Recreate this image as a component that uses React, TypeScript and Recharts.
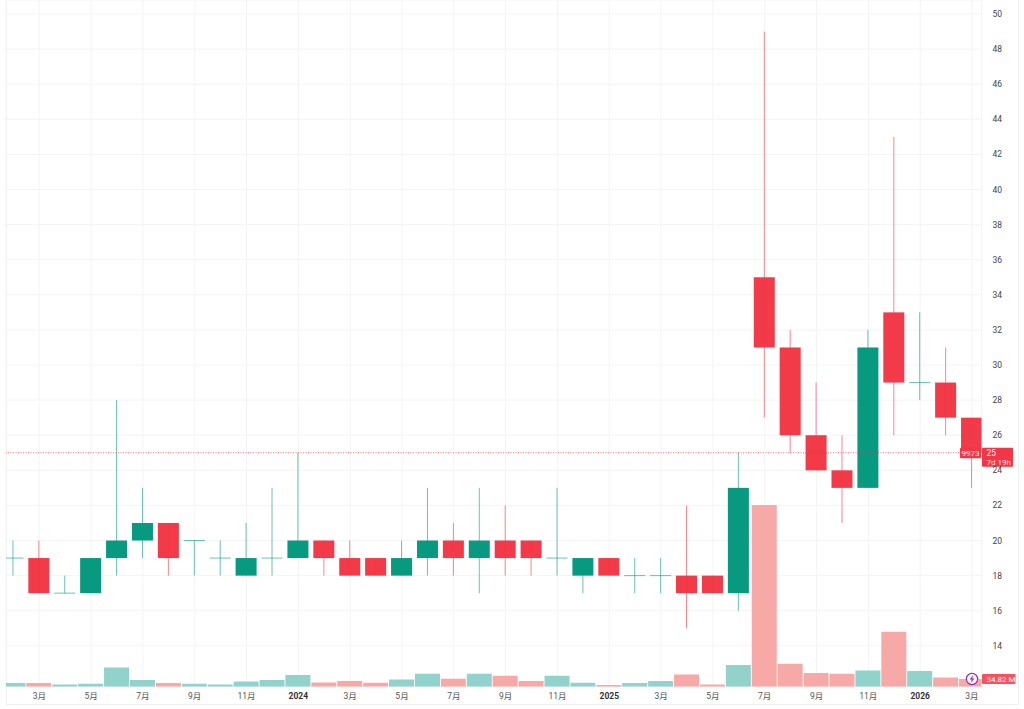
import { Bar, CartesianGrid, Cell, ComposedChart, ReferenceDot, ReferenceLine, XAxis, YAxis } from 'recharts'

const UP = '#089981'
const DOWN = '#f23645'
const UP_VOL = '#92d2cc'
const DOWN_VOL = '#f7a9a7'
const FONT = 'Roboto, "Noto Sans CJK SC", sans-serif'

const opens = [19, 19, 17, 17, 19, 20, 21, 20, 19, 18, 19, 19, 20, 19, 19, 18, 19, 20, 19, 20, 20, 19, 18, 19, 18, 18, 18, 18, 17, 35, 31, 26, 24, 23, 33, 29, 29, 27]
const closes = [19, 17, 17, 19, 20, 21, 19, 20, 19, 19, 19, 20, 19, 18, 18, 19, 20, 19, 20, 19, 19, 19, 19, 18, 18, 18, 17, 17, 23, 31, 26, 24, 23, 31, 29, 29, 27, 25]
const highs = [20, 20, 18, 19, 28, 23, 21, 20, 20, 21, 23, 25, 20, 20, 19, 20, 23, 21, 23, 22, 20, 23, 19, 19, 19, 19, 22, 18, 25, 49, 32, 29, 26, 32, 43, 33, 31, 27]
const lows = [18, 17, 17, 17, 18, 19, 18, 18, 18, 18, 18, 19, 18, 18, 18, 18, 18, 18, 17, 18, 18, 18, 17, 18, 17, 17, 15, 17, 16, 27, 25, 24, 21, 23, 26, 28, 26, 23]
const volumes = [16.7, 16.7, 10.4, 13.6, 87, 30, 16.7, 13.6, 10.4, 24, 30, 53, 19.4, 25.8, 18, 33, 58.8, 36, 58.8, 49.7, 25.8, 49.7, 18, 7.7, 16.7, 25.8, 55.6, 10.4, 98, 821, 104, 62, 58.8, 73.7, 248.6, 71, 42, 34.82]
// doji candles are green on the source chart, so colour is kept as its own list
const upFlags = [1, 0, 1, 1, 1, 1, 0, 1, 1, 1, 1, 1, 0, 0, 0, 1, 1, 0, 1, 0, 0, 1, 1, 0, 1, 1, 0, 0, 1, 0, 0, 0, 0, 1, 0, 1, 0, 0]

const priceTicks = [14, 16, 18, 20, 22, 24, 26, 28, 30, 32, 34, 36, 38, 40, 42, 44, 46, 48, 50]
const timeTicks = [1, 3, 5, 7, 9, 11, 13, 15, 17, 19, 21, 23, 25, 27, 29, 31, 33, 35, 37]
const timeLabels = ['3月', '5月', '7月', '9月', '11月', '2024', '3月', '5月', '7月', '9月', '11月', '2025', '3月', '5月', '7月', '9月', '11月', '2026', '3月']

const rows = opens.map((open, i) => ({
  idx: i,
  open,
  close: closes[i],
  range: [lows[i], highs[i]],
  volume: volumes[i],
  up: upFlags[i] === 1,
}))

const xDomain = [-0.285, 37.367]

function Candle(props: any) {
  const { x, y, width, height, payload } = props
  const top = Math.min(y, y + height)
  const h = Math.abs(height)
  const [low, high] = payload.range
  const perUnit = h / (high - low)
  const color = payload.up ? UP : DOWN
  const bodyTop = top + (high - Math.max(payload.open, payload.close)) * perUnit
  const bodyH = Math.abs(payload.open - payload.close) * perUnit
  const mid = x + width / 2
  return (
    <g>
      <line x1={mid} x2={mid} y1={top} y2={top + h} stroke={color} strokeOpacity={0.6} strokeWidth={1} />
      {bodyH > 0 ? (
        <rect x={x} y={bodyTop} width={width} height={bodyH} fill={color} fillOpacity={color === DOWN ? 0.98 : 1} />
      ) : (
        <line x1={x} x2={x + width} y1={bodyTop} y2={bodyTop} stroke={color} strokeOpacity={0.6} strokeWidth={1} />
      )}
    </g>
  )
}

function TimeTick(props: any) {
  const { x, y, payload } = props
  const label = timeLabels[timeTicks.indexOf(payload.value)]
  const isYear = label.length === 4
  return (
    <text x={x} y={y} dy={4} textAnchor="middle" fontFamily={FONT} fontSize={8.5} fontWeight={isYear ? 700 : 400} fill={isYear ? '#333' : '#555'}>
      {label}
    </text>
  )
}

function PriceLabel(props: any) {
  const { viewBox } = props
  const y = viewBox.y
  const right = viewBox.x + viewBox.width
  return (
    <g fontFamily={FONT}>
      <rect x={right - 21.5} y={y - 5} width={21} height={10.5} fill={DOWN} rx={1} />
      <text x={right - 11} y={y + 3} textAnchor="middle" fontSize={8} fill="#fff">9973</text>
      <rect x={right + 0.5} y={y - 5} width={31} height={19} fill={DOWN} rx={1} />
      <text x={right + 5} y={y + 3} fontSize={8.5} fill="#fff">25</text>
      <text x={right + 5} y={y + 12} fontSize={8} fill="#fde0e2">7d 19h</text>
    </g>
  )
}

function VolumeLabel(props: any) {
  const { viewBox } = props
  const y = viewBox.y
  const right = viewBox.x + viewBox.width
  return (
    <g fontFamily={FONT}>
      <rect x={right + 0.5} y={y - 5} width={33.5} height={10} fill="#f7525f" rx={1} />
      <text x={right + 5} y={y + 3} fontSize={8} fill="#fff">34.82 M</text>
    </g>
  )
}

function BoltDot(props: any) {
  const { cx, cy } = props
  return (
    <g>
      <circle cx={cx} cy={cy} r={5.6} fill="#fff" stroke="#9c27b0" strokeWidth={1.2} />
      <path d={`M${cx + 1.2} ${cy - 4}L${cx - 2.4} ${cy + 0.6}H${cx - 0.2}L${cx - 1.2} ${cy + 4}L${cx + 2.4} ${cy - 0.6}H${cx + 0.2}Z`} fill="#9c27b0" />
    </g>
  )
}

export default function App() {
  return (
    <div style={{ position: 'absolute', left: 0, top: 0, width: 1024, height: 709, background: '#fff' }}>
      <div
        style={{
          position: 'absolute',
          left: 6,
          top: 0,
          width: 1011,
          height: 704,
          borderLeft: '1px solid #f2f3f5',
          borderRight: '1px solid #eef0f3',
          borderBottom: '1px solid #eef0f3',
        }}
      />
      <div style={{ position: 'absolute', left: 0, top: 0 }}>
        <ComposedChart width={1024} height={709} data={rows} margin={{ top: 0, right: 0, bottom: 0, left: 6 }}>
          <CartesianGrid xAxisId="time" yAxisId="price" stroke="#f3f4f6" strokeWidth={1} />
          <XAxis
            xAxisId="time"
            dataKey="idx"
            type="number"
            domain={xDomain}
            allowDataOverflow
            ticks={timeTicks}
            interval={0}
            height={22.3}
            axisLine={false}
            tickLine={false}
            tick={<TimeTick />}
          />
          <XAxis xAxisId="vol" dataKey="idx" type="number" domain={xDomain} allowDataOverflow ticks={timeTicks} hide />
          <YAxis
            yAxisId="price"
            orientation="right"
            domain={[11.67, 50.8]}
            allowDataOverflow
            ticks={priceTicks}
            interval={0}
            width={42.5}
            axisLine={false}
            tickLine={false}
            tickMargin={5}
            tick={{ fontFamily: FONT, fontSize: 8.5, fill: '#444' }}
          />
          <YAxis yAxisId="volume" domain={[0, 3104]} allowDataOverflow hide />
          <Bar xAxisId="vol" yAxisId="volume" dataKey="volume" barSize={25} isAnimationActive={false}>
            {rows.map((r) => (
              <Cell key={r.idx} fill={r.up ? UP_VOL : DOWN_VOL} />
            ))}
          </Bar>
          <Bar xAxisId="time" yAxisId="price" dataKey="range" barSize={21} shape={<Candle />} isAnimationActive={false} />
          <ReferenceLine
            xAxisId="time"
            yAxisId="price"
            y={25}
            stroke={DOWN}
            strokeOpacity={0.7}
            strokeDasharray="1 1.5"
            label={<PriceLabel />}
          />
          <ReferenceLine xAxisId="vol" yAxisId="volume" y={34.82} stroke="none" label={<VolumeLabel />} />
          <ReferenceDot xAxisId="vol" yAxisId="volume" x={37} y={34.82} shape={<BoltDot />} />
        </ComposedChart>
      </div>
    </div>
  )
}
